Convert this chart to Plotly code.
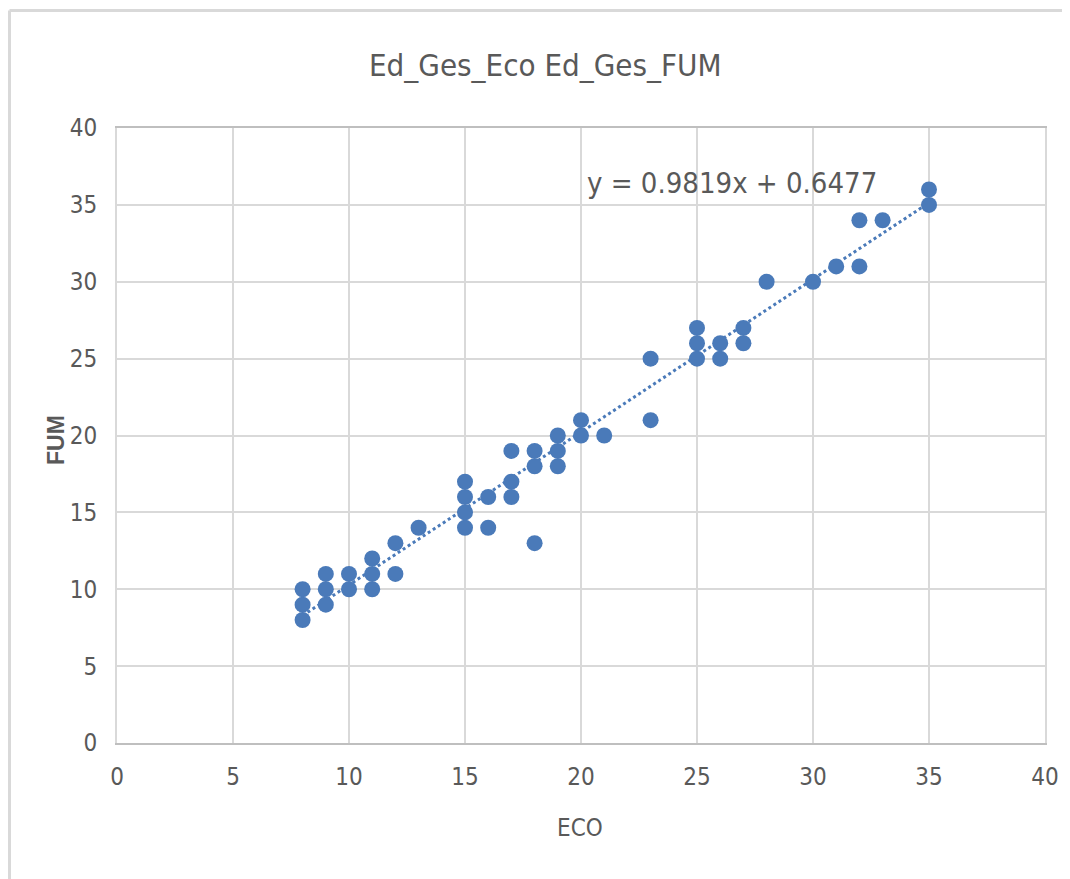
import numpy as np
import plotly.graph_objects as go

# Data
eco = [8, 8, 8, 9, 9, 9, 10, 10, 11, 11, 11, 12, 12, 13,
       15, 15, 15, 15, 16, 16, 17, 17, 17, 18, 18, 18, 19, 19, 19,
       20, 20, 21, 23, 23, 25, 25, 25, 26, 26, 27, 27, 28, 30, 31,
       32, 32, 33, 35, 35]
fum = [8, 9, 10, 9, 10, 11, 10, 11, 10, 11, 12, 11, 13, 14,
       14, 15, 16, 17, 14, 16, 16, 17, 19, 13, 18, 19, 18, 19, 20,
       20, 21, 20, 21, 25, 25, 26, 27, 25, 26, 26, 27, 30, 30, 31,
       31, 34, 34, 35, 36]
ticks = [0, 5, 10, 15, 20, 25, 30, 35, 40]
title_text = "Ed_Ges_Eco Ed_Ges_FUM"
equation_text = "y = 0.9819x + 0.6477"
x_title = "ECO"
y_title = "FUM"

BLUE = "#4a7ab9"
GRID = "#d9d9d9"
TXT = "#595959"
NARROW = "DejaVu Sans Condensed, Roboto Condensed, Liberation Sans Narrow, sans-serif"

slope, intercept = np.polyfit(eco, fum, 1)
tx = [min(eco), max(eco)]
ty = [slope * v + intercept for v in tx]

fig = go.Figure()
fig.add_trace(go.Scatter(x=tx, y=ty, mode="lines",
                         line=dict(color=BLUE, width=3, dash="dot"),
                         hoverinfo="skip", showlegend=False))
fig.add_trace(go.Scatter(x=eco, y=fum, mode="markers",
                         marker=dict(color=BLUE, size=16, line=dict(width=0)),
                         showlegend=False))

axis_common = dict(range=[0, 40], tickvals=ticks, showgrid=True, gridcolor=GRID,
                   gridwidth=2, zeroline=False, showline=True, linecolor=GRID,
                   linewidth=2, mirror=True, ticks="",
                   tickfont=dict(family=NARROW, size=24, color=TXT))
fig.update_xaxes(**axis_common, ticklabelstandoff=11)
fig.update_yaxes(**axis_common, ticklabelstandoff=13)
fig.update_xaxes(linecolor="#bfbfbf")

# page body has an 8px margin; work in page pixels and convert
OFF = 8
L, R, T, B = 117 - OFF, 25, 128 - OFF, 136
W, H = 1070 - OFF, 879 - OFF
pw, ph = W - L - R, H - T - B

def px(x):
    return (x - OFF - L) / pw

def py(y):
    return (H - B - (y - OFF)) / ph

fig.update_layout(
    width=W, height=H,
    margin=dict(l=L, r=R, t=T, b=B),
    paper_bgcolor="white", plot_bgcolor="white",
    annotations=[
        dict(text=title_text, x=px(545), y=py(65), xref="paper", yref="paper",
             showarrow=False, xanchor="center", yanchor="middle",
             font=dict(family=NARROW, size=31, color=TXT)),
        dict(text=equation_text, x=px(585), y=py(183), xref="paper", yref="paper",
             showarrow=False, xanchor="left", yanchor="middle",
             font=dict(family=NARROW, size=29, color=TXT)),
        dict(text=x_title, x=px(580), y=py(828), xref="paper", yref="paper",
             showarrow=False, xanchor="center", yanchor="middle",
             font=dict(family=NARROW, size=24, color=TXT)),
        dict(text="<b>" + y_title + "</b>", x=px(56), y=py(440), xref="paper", yref="paper",
             showarrow=False, xanchor="center", yanchor="middle", textangle=-90,
             font=dict(family="Liberation Sans, Arial, sans-serif", size=23, color=TXT)),
    ],
    shapes=[
        dict(type="line", xref="paper", yref="paper", x0=px(9.5), x1=px(1070),
             y0=py(10.5), y1=py(10.5), line=dict(color=GRID, width=3)),
        dict(type="line", xref="paper", yref="paper", x0=px(9.5), x1=px(9.5),
             y0=py(10.5), y1=py(879), line=dict(color=GRID, width=3)),
    ],
)

fig.write_html("out.html")
